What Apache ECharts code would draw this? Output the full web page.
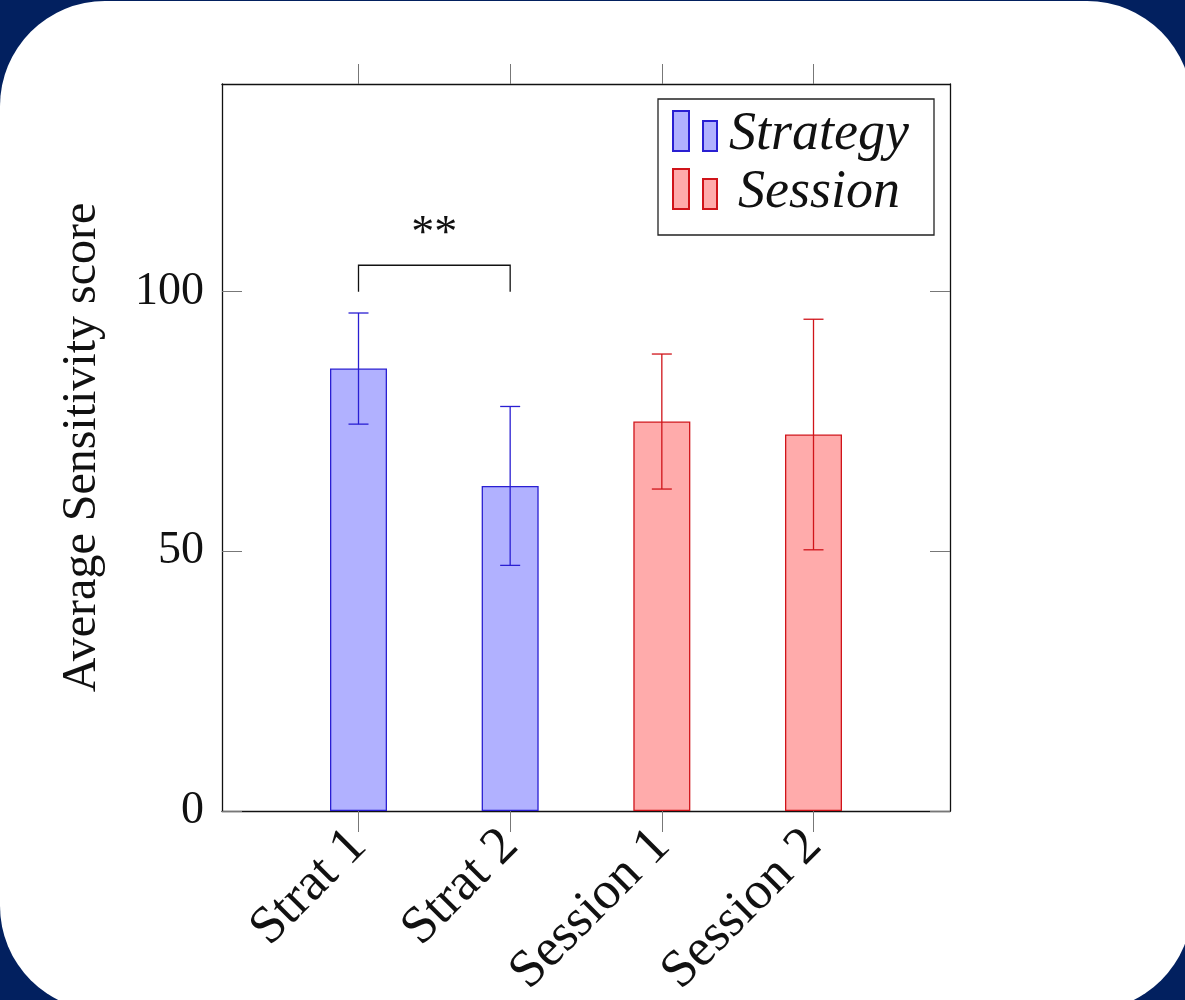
<!DOCTYPE html>
<html><head><meta charset="utf-8">
<script src="https://cdn.jsdelivr.net/npm/echarts@6/dist/echarts.min.js"></script>
<style>html,body{margin:0;padding:0;background:#02205f;}#c{width:1185px;height:1000px;}</style>
</head><body><div id="c"></div>
<script>
// ---- data ----
const categories = ['Strat 1', 'Strat 2', 'Session 1', 'Session 2'];
const positions = [1, 2, 3, 4];
const strategyPositions = [1, 2];
const strategyMeans = [85.2, 62.6];
const strategyErrors = [10.7, 15.3];
const sessionPositions = [3, 4];
const sessionMeans = [75.0, 72.5];
const sessionErrors = [13.0, 22.2];
const yTicks = [0, 50, 100];
const bracket = [1, 2, 100, 105.1];   // x from, x to, y foot, y top
const significance = ['**'];
const significanceAt = [1.5, 111];

// ---- styles ----
const FONT = '"Liberation Serif", "DejaVu Serif", serif';
const BLUE = '#2a1fd2', BLUE_FILL = '#b1b1ff';
const RED = '#d0141a', RED_FILL = '#ffabab';

const chart = echarts.init(document.getElementById('c'), null, {renderer: 'canvas'});

function barData(pos, means) { return pos.map((p, i) => [p, means[i]]); }
function errData(pos, means, errs) { return pos.map((p, i) => [p, means[i] - errs[i], means[i] + errs[i]]); }

function errRender(color) {
  return function (params, api) {
    const x = api.value(0), lo = api.value(1), hi = api.value(2);
    const t = api.coord([x, hi]), b = api.coord([x, lo]);
    const hw = 10;
    const st = {stroke: color, lineWidth: 1.3, fill: null};
    return {type: 'group', children: [
      {type: 'line', shape: {x1: t[0], y1: t[1], x2: b[0], y2: b[1]}, style: st},
      {type: 'line', shape: {x1: t[0] - hw, y1: t[1], x2: t[0] + hw, y2: t[1]}, style: st},
      {type: 'line', shape: {x1: b[0] - hw, y1: b[1], x2: b[0] + hw, y2: b[1]}, style: st}
    ]};
  };
}

const xCommon = {type: 'value', min: 0.1, max: 4.9, splitLine: {show: false},
  axisLine: {show: true, onZero: false, lineStyle: {color: '#111', width: 1.3}}};
const yCommon = {type: 'value', min: 0, max: 140, splitLine: {show: false},
  axisLine: {show: true, onZero: false, lineStyle: {color: '#111', width: 1.3}}};

const option = {
  backgroundColor: '#02205f',
  animation: false,
  graphic: [{type: 'rect', z: -10, silent: true,
    shape: {x: 0, y: 1, width: 1192, height: 1010, r: 105},
    style: {fill: '#ffffff'}}],
  grid: {left: 222, right: 235, top: 84, bottom: 189, containLabel: false, outerBoundsMode: 'none'},
  xAxis: [
    Object.assign({}, xCommon, {position: 'bottom',
      axisTick: {show: true, inside: false, length: 21, customValues: positions, lineStyle: {color: '#777', width: 1}},
      axisLabel: {show: true, customValues: positions, rotate: 45, margin: 27,
        formatter: v => categories[Math.round(v) - 1],
        fontFamily: FONT, fontSize: 53, color: '#111'}}),
    Object.assign({}, xCommon, {position: 'top',
      axisTick: {show: true, inside: false, length: 20, customValues: positions, lineStyle: {color: '#777', width: 1}},
      axisLabel: {show: false}})
  ],
  yAxis: [
    Object.assign({}, yCommon, {position: 'left',
      axisTick: {show: true, inside: true, length: 20, customValues: yTicks, lineStyle: {color: '#777', width: 1}},
      axisLabel: {show: true, customValues: yTicks, margin: 18, fontFamily: FONT, fontSize: 46, color: '#111'},
      name: 'Average Sensitivity score', nameLocation: 'middle', nameRotate: 90, nameGap: 116,
      nameTextStyle: {fontFamily: FONT, fontSize: 48, color: '#111'}}),
    Object.assign({}, yCommon, {position: 'right',
      axisTick: {show: true, inside: true, length: 20, customValues: yTicks, lineStyle: {color: '#777', width: 1}},
      axisLabel: {show: false}})
  ],
  legend: {
    data: [{name: 'Strategy'}, {name: 'Session'}],
    selectedMode: false,
    orient: 'vertical', left: 658, top: 99,
    itemWidth: 44, itemHeight: 40, itemGap: -4,
    icon: 'path://M0,0H16V40H0Z M30,10H44V40H30Z',
    padding: [1, 18, 15, 14],
    borderColor: '#222', borderWidth: 1.3, backgroundColor: '#fff',
    formatter: n => '{t|' + n + '}',
    textStyle: {fontFamily: FONT, fontStyle: 'italic', fontSize: 54, color: '#111',
      rich: {t: {width: 194, align: 'center', fontFamily: FONT, fontStyle: 'italic', fontSize: 54,
        lineHeight: 50, padding: [8, 0, 0, 0], color: '#111'}}}
  },
  series: [
    {name: 'Strategy', type: 'bar', barWidth: 57, barGap: '-100%', xAxisIndex: 0, yAxisIndex: 0,
      data: barData(strategyPositions, strategyMeans),
      itemStyle: {color: BLUE_FILL, borderColor: BLUE, borderWidth: 1.3}},
    {name: 'Session', type: 'bar', barWidth: 57, barGap: '-100%', xAxisIndex: 0, yAxisIndex: 0,
      data: barData(sessionPositions, sessionMeans),
      itemStyle: {color: RED_FILL, borderColor: RED, borderWidth: 1.3}},
    {name: 'errStrategy', type: 'custom', z: 5, xAxisIndex: 0, yAxisIndex: 0,
      encode: {x: 0, y: [1, 2]}, renderItem: errRender(BLUE),
      data: errData(strategyPositions, strategyMeans, strategyErrors)},
    {name: 'errSession', type: 'custom', z: 5, xAxisIndex: 0, yAxisIndex: 0,
      encode: {x: 0, y: [1, 2]}, renderItem: errRender(RED),
      data: errData(sessionPositions, sessionMeans, sessionErrors)},
    {name: 'bracket', type: 'custom', z: 5, xAxisIndex: 0, yAxisIndex: 0,
      encode: {x: [0, 1], y: [2, 3]},
      renderItem: function (params, api) {
        const a = api.coord([api.value(0), api.value(2)]);
        const b = api.coord([api.value(0), api.value(3)]);
        const c = api.coord([api.value(1), api.value(3)]);
        const d = api.coord([api.value(1), api.value(2)]);
        return {type: 'polyline', shape: {points: [a, b, c, d]},
          style: {stroke: '#111', lineWidth: 1.3, fill: null}};
      },
      data: [bracket]},
    {name: 'sig', type: 'custom', z: 5, xAxisIndex: 0, yAxisIndex: 0,
      encode: {x: 0, y: 1},
      renderItem: function (params, api) {
        const p = api.coord([api.value(0), api.value(1)]);
        return {type: 'text', x: p[0], y: p[1],
          style: {text: significance[params.dataIndex], fill: '#111', fontFamily: FONT, fontSize: 46,
            align: 'center', verticalAlign: 'middle'}};
      },
      data: [significanceAt]}
  ]
};
chart.setOption(option);
</script></body></html>
